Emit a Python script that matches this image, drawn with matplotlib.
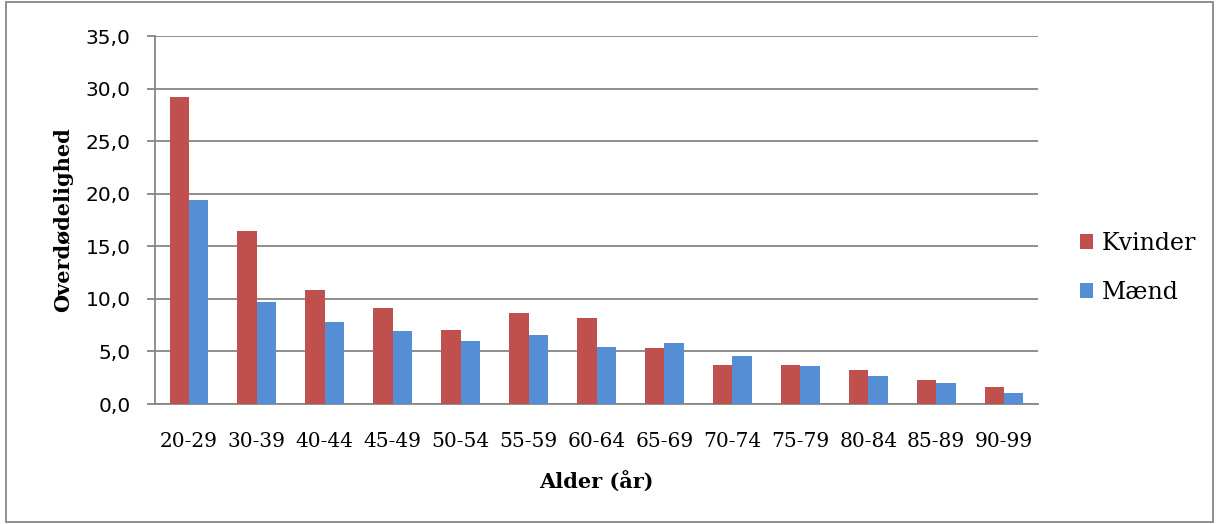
import matplotlib.pyplot as plt
import numpy as np
from matplotlib.patches import Rectangle

age_groups = ['20-29', '30-39', '40-44', '45-49', '50-54', '55-59', '60-64',
              '65-69', '70-74', '75-79', '80-84', '85-89', '90-99']
kvinder = [29.2, 16.5, 10.8, 9.1, 7.0, 8.7, 8.2, 5.3, 3.7, 3.7, 3.2, 2.3, 1.6]
maend = [19.4, 9.7, 7.8, 6.9, 6.0, 6.6, 5.4, 5.8, 4.6, 3.6, 2.7, 2.0, 1.0]
y_ticks = [0, 5, 10, 15, 20, 25, 30, 35]

red = '#c0504d'
blue = '#558ed5'
grid_col = '#868686'
serif = 'DejaVu Serif'

fig = plt.figure(figsize=(12.19, 5.24), dpi=100)
ax = fig.add_axes([155/1219, 120/524, 883/1219, 368/524])

x = np.arange(len(age_groups))
w = 0.286
ax.bar(x - w/2, kvinder, w, color=red, label='Kvinder', zorder=3)
ax.bar(x + w/2, maend, w, color=blue, label='Mænd', zorder=3)

ax.set_xlim(-0.5, len(age_groups) - 0.5)
ax.set_ylim(0, 35)
ax.set_yticks(y_ticks)
ax.set_yticklabels([('%.1f' % v).replace('.', ',') for v in y_ticks],
                   fontsize=14.5, family='DejaVu Sans')
ax.set_xticks(x)
ax.set_xticklabels(age_groups, fontsize=14.5, family=serif)
ax.tick_params(axis='x', length=0, pad=20)
ax.tick_params(axis='y', length=5.5, color=grid_col, width=1.3, pad=12)
ax.yaxis.grid(True, color=grid_col, linewidth=1.3, zorder=0)
for s in ['top', 'right']:
    ax.spines[s].set_visible(False)
for s in ['left', 'bottom']:
    ax.spines[s].set_color(grid_col)
    ax.spines[s].set_linewidth(1.3)

ax.set_xlabel('Alder (år)', fontsize=15, family=serif, fontweight='bold', labelpad=15)
ax.set_ylabel('Overdødelighed', fontsize=15, family=serif, fontweight='bold', labelpad=9)

leg = ax.legend(loc='center left', bbox_to_anchor=(1.024, 0.37), frameon=False,
                prop={'family': serif, 'size': 17}, handlelength=0.55, handleheight=0.55,
                handletextpad=0.35, labelspacing=1.1)

fig.patches.append(Rectangle((0.005, 0.004), 0.99, 0.992, transform=fig.transFigure,
                             fill=False, edgecolor=grid_col, linewidth=1.3))

fig.savefig('out.png', dpi=100)
